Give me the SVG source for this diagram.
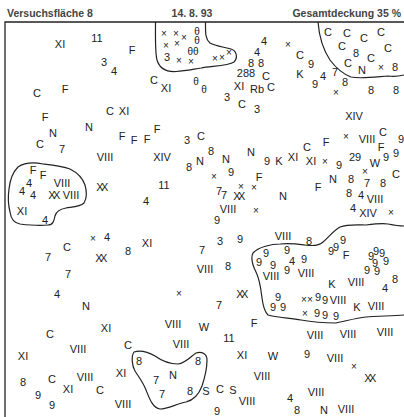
<svg xmlns="http://www.w3.org/2000/svg" width="404" height="417" viewBox="0 0 404 417">
<style>
.h{font-family:"Liberation Sans",Arial,sans-serif;font-size:10.5px;font-weight:bold;fill:#444}
.t{font-family:"Liberation Sans",Arial,sans-serif;font-size:11px;fill:#222;text-anchor:middle}
.s{font-size:10px}
.xx{letter-spacing:-2.5px}
.b{fill:none;stroke:#222;stroke-width:1.2;stroke-linejoin:round}
.f{fill:none;stroke:#222;stroke-width:1.3}
</style>
<rect width="404" height="417" fill="#fff"/>
<g id="header">
<text class="h" x="7" y="17">Versuchsfläche 8</text>
<text class="h" x="192" y="17" text-anchor="middle">14. 8. 93</text>
<text class="h" x="401" y="17" text-anchor="end">Gesamtdeckung 35 %</text>
</g>
<g id="frame">
<path class="f" d="M5,417 V22 H404"/>
</g>
<g id="patches">
<path id="patch1" class="b" d="M155.5,22 C155.5,38 155,52 157,60 C160,70 168,72 176,71.5 C186,71 194,69 201,68 C212,66 228,66 234,62 C238,58 237,51 231,49 C224,47 215,46 210,43 C205,39 205.5,32 205.5,22"/>
<path id="patch2" class="b" d="M318,22 C319,35 322,48 330,60 C336,68 343,74 351,77 C360,79 375,77 388,76 C395,77 400,76 404,75"/>
<path id="patch3" class="b" d="M18,167 C24,163 33,162 43,164 C52,165 62,166 70,169 C78,173 83,179 85,185 C87,192 87,198 84,203 C80,207 72,207 66,208 C60,209 56,212 55,216 C54,221 53,225 48,225 C40,226 28,225 20,224 C14,223 11,219 10,212 C8,204 8,196 9,189 C10,180 13,172 18,167 Z"/>
<path id="patch4" class="b" d="M404,226 C398,226 393,225 388,224 C382,223 374,224 366,225 C358,225 348,224 340,227 C333,231 328,238 323,242 C319,246 312,246 305,245 C297,244 290,243 280,244 C272,244 258,247 253,253 C250,259 253,266 256,272 C260,280 261,290 262,298 C263,306 264,311 268,315 C275,317 288,318 301,320 C312,322 325,323 336,323 C346,321 356,318 366,317 C378,316 392,316 404,315"/>
<path id="patch5" class="b" d="M134,352 C140,350 148,352 155,356 C162,361 170,364 178,364 C186,363 190,357 196,353 C202,351 207,354 207,360 C207,368 205,377 202,386 C199,394 194,400 186,402 C176,404 168,409 160,409 C153,408 150,400 146,390 C143,382 138,376 135,371 C132,366 131,356 134,352 Z"/>
</g>
<g id="labels">
<text class="t" x="60" y="48">XI</text>
<text class="t" x="97" y="42">11</text>
<text class="t" x="132" y="54">F</text>
<text class="t" x="104" y="66">3</text>
<text class="t" x="114" y="75">4</text>
<text class="t" x="37" y="97">C</text>
<text class="t" x="65" y="93">F</text>
<text class="t" x="110" y="115">C</text>
<text class="t" x="124" y="115">XI</text>
<text class="t" x="45" y="121">F</text>
<text class="t" x="89" y="131">N</text>
<text class="t" x="53" y="137">N</text>
<text class="t" x="122" y="140">F</text>
<text class="t" x="134" y="144">F</text>
<text class="t" x="147" y="143">F</text>
<text class="t" x="157" y="133">F</text>
<text class="t" x="40" y="148">C</text>
<text class="t" x="62" y="153">7</text>
<text class="t" x="105" y="161">VIII</text>
<text class="t" x="33" y="174">F</text>
<text class="t" x="43" y="179">F</text>
<text class="t" x="62" y="187">VIII</text>
<text class="t" x="29" y="187">4</text>
<text class="t" x="22" y="195">4</text>
<text class="t" x="33" y="199">4</text>
<text class="t xx" x="53" y="199">XX</text>
<text class="t" x="71" y="199">VIII</text>
<text class="t xx" x="101" y="191">XX</text>
<text class="t" x="22" y="215">XI</text>
<text class="t" x="45" y="224">4</text>
<text class="t s" x="164" y="37">×</text>
<text class="t s" x="176" y="37">×</text>
<text class="t s" x="184" y="41">×</text>
<text class="t s" x="197" y="35">θ</text>
<text class="t s" x="166" y="49">×</text>
<text class="t s" x="177" y="47">×</text>
<text class="t s" x="197" y="44">θ</text>
<text class="t s" x="193" y="55">θθ</text>
<text class="t" x="167" y="61">3</text>
<text class="t s" x="179" y="64">×</text>
<text class="t s" x="191" y="65">×</text>
<text class="t s" x="215" y="62">×</text>
<text class="t s" x="222" y="61">×</text>
<text class="t s" x="229" y="56">×</text>
<text class="t" x="264" y="45">4</text>
<text class="t" x="257" y="56">4</text>
<text class="t" x="251" y="67">8</text>
<text class="t" x="261" y="67">8</text>
<text class="t" x="246" y="77">288</text>
<text class="t" x="266" y="80">C</text>
<text class="t" x="154" y="84">C</text>
<text class="t" x="166" y="92">XI</text>
<text class="t s" x="196" y="85">θ</text>
<text class="t s" x="204" y="93">θ</text>
<text class="t" x="239" y="90">XI</text>
<text class="t" x="257" y="93">Rb</text>
<text class="t" x="271" y="91">C</text>
<text class="t" x="227" y="101">3</text>
<text class="t" x="242" y="108">C</text>
<text class="t" x="257" y="113">3</text>
<text class="t" x="328" y="36">C</text>
<text class="t" x="347" y="37">C</text>
<text class="t" x="364" y="42">C</text>
<text class="t" x="381" y="36">C</text>
<text class="t" x="342" y="50">C</text>
<text class="t" x="356" y="57">8</text>
<text class="t" x="388" y="52">C</text>
<text class="t" x="371" y="62">C</text>
<text class="t" x="348" y="67">C</text>
<text class="t" x="362" y="74">N</text>
<text class="t s" x="381" y="71">×</text>
<text class="t" x="395" y="71">8</text>
<text class="t s" x="288" y="48">×</text>
<text class="t" x="300" y="59">C</text>
<text class="t" x="311" y="68">9</text>
<text class="t" x="300" y="78">K</text>
<text class="t" x="323" y="80">4</text>
<text class="t" x="335" y="76">7</text>
<text class="t" x="315" y="88">9</text>
<text class="t" x="345" y="86">8</text>
<text class="t s" x="336" y="96">×</text>
<text class="t" x="371" y="94">8</text>
<text class="t" x="396" y="94">8</text>
<text class="t" x="187" y="144">3</text>
<text class="t" x="201" y="140">C</text>
<text class="t" x="162" y="161">XIV</text>
<text class="t" x="211" y="155">8</text>
<text class="t" x="200" y="165">N</text>
<text class="t" x="189" y="171">8</text>
<text class="t" x="226" y="163">N</text>
<text class="t" x="251" y="156">N</text>
<text class="t" x="267" y="165">9</text>
<text class="t s" x="214" y="180">×</text>
<text class="t" x="231" y="176">9</text>
<text class="t" x="164" y="189">11</text>
<text class="t s" x="241" y="190">×</text>
<text class="t s" x="254" y="191">×</text>
<text class="t" x="259" y="181">F</text>
<text class="t" x="219" y="195">7</text>
<text class="t" x="224" y="199">7</text>
<text class="t xx" x="238" y="200">XX</text>
<text class="t" x="146" y="205">4</text>
<text class="t" x="228" y="213">VIII</text>
<text class="t s" x="256" y="214">×</text>
<text class="t" x="354" y="120">XIV</text>
<text class="t s" x="346" y="140">×</text>
<text class="t" x="367" y="143">VIII</text>
<text class="t" x="383" y="136">C</text>
<text class="t" x="401" y="143">9</text>
<text class="t" x="326" y="146">F</text>
<text class="t" x="307" y="151">C</text>
<text class="t" x="293" y="161">XI</text>
<text class="t" x="279" y="165">K</text>
<text class="t" x="311" y="165">XI</text>
<text class="t s" x="325" y="165">×</text>
<text class="t" x="339" y="169">9</text>
<text class="t" x="355" y="161">29</text>
<text class="t" x="381" y="151">F</text>
<text class="t" x="396" y="157">9</text>
<text class="t" x="375" y="167">W</text>
<text class="t" x="386" y="161">9</text>
<text class="t s" x="365" y="175">×</text>
<text class="t" x="396" y="178">C</text>
<text class="t" x="333" y="183">N</text>
<text class="t" x="351" y="183">8</text>
<text class="t" x="367" y="187">7</text>
<text class="t" x="383" y="187">8</text>
<text class="t" x="318" y="191">F</text>
<text class="t" x="283" y="200">N</text>
<text class="t" x="349" y="197">8</text>
<text class="t" x="361" y="199">4</text>
<text class="t" x="375" y="203">VIII</text>
<text class="t" x="353" y="212">4</text>
<text class="t" x="368" y="217">XIV</text>
<text class="t s" x="391" y="216">×</text>
<text class="t" x="217" y="224">9</text>
<text class="t" x="147" y="247">XI</text>
<text class="t" x="220" y="245">3</text>
<text class="t" x="240" y="243">9</text>
<text class="t" x="202" y="254">7</text>
<text class="t" x="205" y="273">VIII</text>
<text class="t" x="228" y="270">8</text>
<text class="t s" x="179" y="297">×</text>
<text class="t xx" x="241" y="298">XX</text>
<text class="t" x="219" y="309">7</text>
<text class="t s" x="93" y="242">×</text>
<text class="t" x="107" y="241">4</text>
<text class="t" x="128" y="255">8</text>
<text class="t" x="67" y="251">C</text>
<text class="t" x="48" y="261">7</text>
<text class="t xx" x="100" y="262">XX</text>
<text class="t" x="68" y="278">7</text>
<text class="t" x="57" y="298">4</text>
<text class="t" x="86" y="310">N</text>
<text class="t" x="283" y="240">VIII</text>
<text class="t" x="309" y="245">8</text>
<text class="t" x="259" y="266">9</text>
<text class="t" x="266" y="257">9</text>
<text class="t" x="273" y="269">9</text>
<text class="t" x="287" y="254">9</text>
<text class="t" x="292" y="265">4</text>
<text class="t" x="304" y="263">9</text>
<text class="t" x="287" y="274">9</text>
<text class="t" x="271" y="280">VIII</text>
<text class="t" x="306" y="277">VIII</text>
<text class="t" x="331" y="255">9</text>
<text class="t" x="336" y="251">9</text>
<text class="t" x="343" y="244">9</text>
<text class="t" x="346" y="259">F</text>
<text class="t" x="371" y="260">9</text>
<text class="t" x="376" y="255">9</text>
<text class="t" x="382" y="257">9</text>
<text class="t" x="386" y="265">9</text>
<text class="t" x="375" y="267">9</text>
<text class="t" x="367" y="274">9</text>
<text class="t" x="377" y="275">9</text>
<text class="t" x="332" y="288">K</text>
<text class="t" x="356" y="286">VIII</text>
<text class="t" x="395" y="283">8</text>
<text class="t" x="385" y="292">4</text>
<text class="t" x="278" y="301">9</text>
<text class="t" x="273" y="311">9</text>
<text class="t" x="283" y="311">9</text>
<text class="t s" x="304" y="303">×</text>
<text class="t s" x="310" y="303">×</text>
<text class="t" x="318" y="301">9</text>
<text class="t" x="325" y="304">9</text>
<text class="t" x="338" y="304">VIII</text>
<text class="t" x="357" y="311">K</text>
<text class="t" x="376" y="310">VIII</text>
<text class="t s" x="305" y="317">×</text>
<text class="t" x="317" y="317">9</text>
<text class="t" x="325" y="319">9</text>
<text class="t" x="336" y="320">9</text>
<text class="t" x="106" y="332">XI</text>
<text class="t" x="50" y="338">C</text>
<text class="t" x="78" y="353">VIII</text>
<text class="t" x="128" y="349">C</text>
<text class="t" x="23" y="360">XI</text>
<text class="t" x="121" y="377">XI</text>
<text class="t" x="23" y="386">8</text>
<text class="t" x="52" y="383">C</text>
<text class="t" x="85" y="381">VIII</text>
<text class="t" x="68" y="393">XI</text>
<text class="t" x="100" y="394">C</text>
<text class="t" x="38" y="399">9</text>
<text class="t" x="52" y="409">9</text>
<text class="t" x="123" y="408">VIII</text>
<text class="t" x="173" y="328">VIII</text>
<text class="t" x="204" y="331">W</text>
<text class="t" x="254" y="327">F</text>
<text class="t" x="181" y="348">VIII</text>
<text class="t" x="229" y="342">11</text>
<text class="t" x="139" y="365">8</text>
<text class="t" x="198" y="365">8</text>
<text class="t" x="156" y="384">7</text>
<text class="t" x="173" y="379">N</text>
<text class="t" x="162" y="398">7</text>
<text class="t" x="190" y="395">8</text>
<text class="t" x="206" y="395">S</text>
<text class="t" x="220" y="393">C</text>
<text class="t" x="233" y="394">S</text>
<text class="t" x="242" y="359">XI</text>
<text class="t" x="262" y="380">VIII</text>
<text class="t" x="247" y="405">VIII</text>
<text class="t" x="217" y="415">9</text>
<text class="t" x="315" y="339">VIII</text>
<text class="t" x="348" y="338">VIII</text>
<text class="t" x="385" y="336">VIII</text>
<text class="t" x="273" y="360">W</text>
<text class="t" x="307" y="358">9</text>
<text class="t" x="335" y="362">VIII</text>
<text class="t s" x="354" y="370">×</text>
<text class="t xx" x="369" y="382">XX</text>
<text class="t" x="316" y="396">VIII</text>
<text class="t" x="290" y="402">4</text>
<text class="t" x="297" y="414">8</text>
<text class="t" x="324" y="414">N</text>
<text class="t" x="346" y="413">VIII</text>
</g>
</svg>
